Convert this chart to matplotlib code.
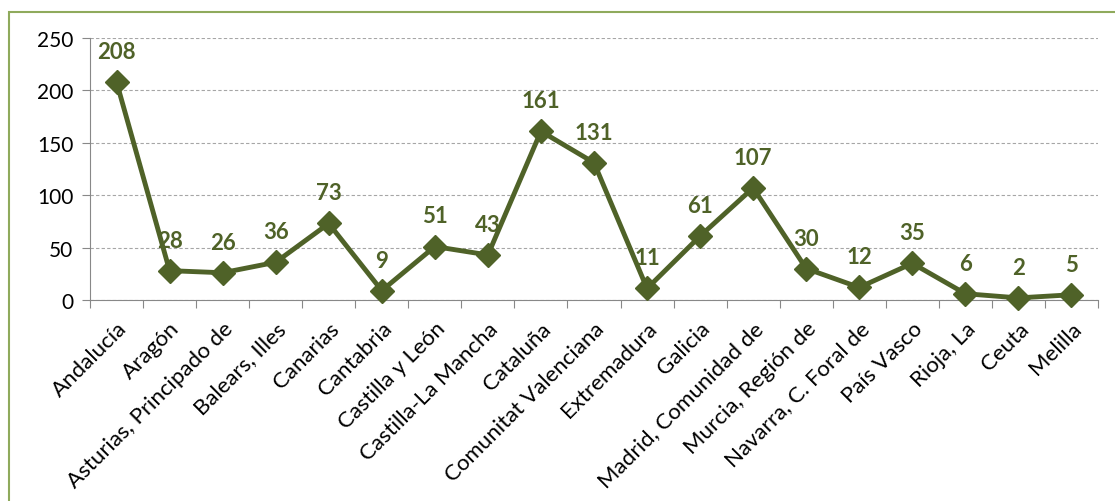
import matplotlib.pyplot as plt
from matplotlib.patches import Rectangle

# DATA
regiones = ["Andalucía", "Aragón", "Asturias, Principado de", "Balears, Illes",
            "Canarias", "Cantabria", "Castilla y León", "Castilla-La Mancha",
            "Cataluña", "Comunitat Valenciana", "Extremadura", "Galicia",
            "Madrid, Comunidad de", "Murcia, Región de", "Navarra, C. Foral de",
            "País Vasco", "Rioja, La", "Ceuta", "Melilla"]
valores = [208, 28, 26, 36, 73, 9, 51, 43, 161, 131, 11, 61, 107, 30, 12, 35, 6, 2, 5]
y_ticks = [0, 50, 100, 150, 200, 250]

LINE_GREEN = "#4F6228"
BORDER_GREEN = "#8FAA5C"

plt.rcParams['font.family'] = ['Lato', 'DejaVu Sans']

fig = plt.figure(figsize=(11.15, 5.02), dpi=100)
ax = fig.add_axes([90 / 1115, 1 - 301 / 502, (1098 - 90) / 1115, (301 - 39) / 502])

# frame around the chart (cropped at right and bottom)
fig.patches.append(Rectangle((9 / 1115, -0.05), 1.2, 1 - 13 / 502 + 0.05,
                             transform=fig.transFigure, fill=False,
                             edgecolor=BORDER_GREEN, linewidth=1.5))

x = list(range(len(regiones)))
ax.plot(x, valores, color=LINE_GREEN, linewidth=3.5, marker="D", markersize=12,
        markerfacecolor=LINE_GREEN, markeredgecolor=LINE_GREEN, zorder=3,
        clip_on=False)

for xi, v in zip(x, valores):
    ax.annotate(str(v), (xi, v), xytext=(0, 22), textcoords="offset points",
                ha="center", va="center", fontsize=16, fontweight="bold",
                color=LINE_GREEN)

ax.set_xlim(-0.5, len(regiones) - 0.5)
ax.set_ylim(0, 250)
ax.set_yticks(y_ticks)
ax.tick_params(axis="y", labelsize=15, length=6, color="#888888", pad=6)
ax.grid(axis="y", linestyle=(0, (3, 2)), color="#A6A6A6", linewidth=0.8)
ax.set_axisbelow(True)

# category boundary ticks on the x axis
ax.set_xticks([i - 0.5 for i in range(len(regiones) + 1)], minor=False)
ax.set_xticklabels([])
ax.tick_params(axis="x", length=6, color="#888888", direction="out")
ax.set_xticks(x, minor=True)
ax.set_xticklabels(regiones, minor=True, rotation=45, ha="right",
                   rotation_mode="anchor", fontsize=16)
ax.tick_params(axis="x", which="minor", length=0, pad=13)

for side in ["top", "right"]:
    ax.spines[side].set_visible(False)
for side in ["left", "bottom"]:
    ax.spines[side].set_color("#888888")

fig.savefig("out.png", dpi=100)
